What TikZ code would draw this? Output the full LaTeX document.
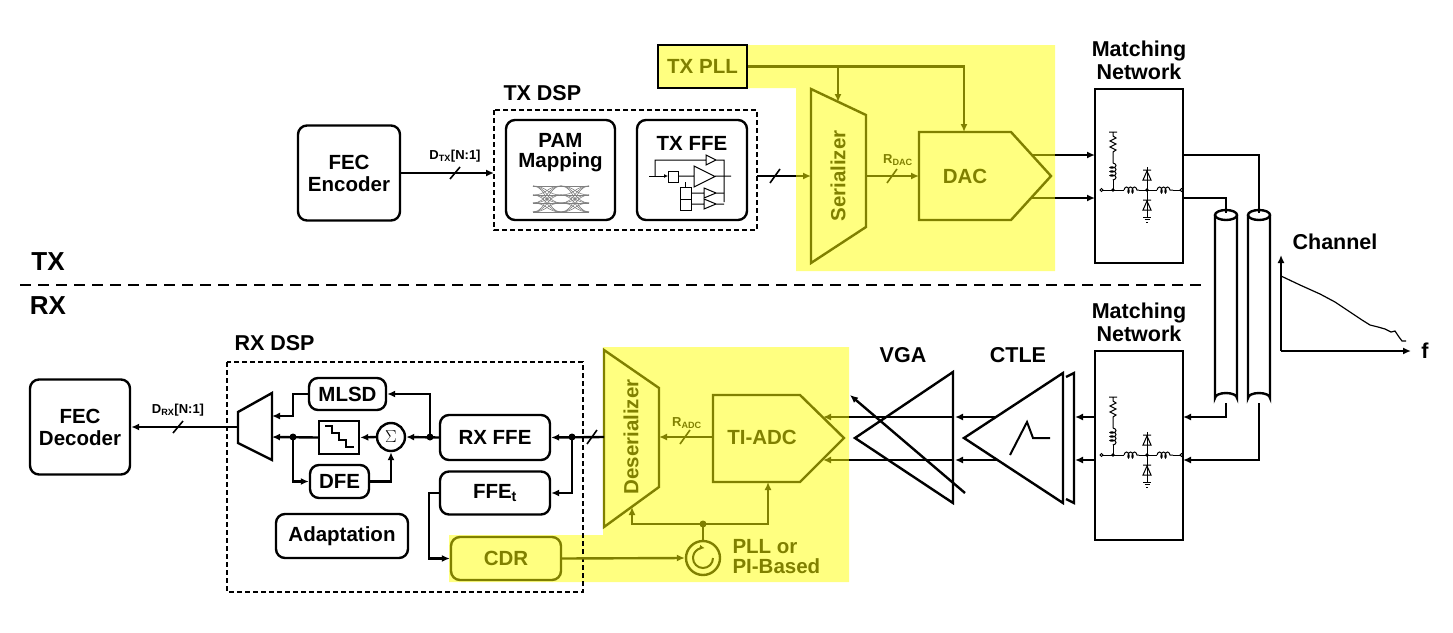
\documentclass[tikz,border=0pt]{standalone}
\usepackage{fontspec}
\setmainfont{Liberation Sans}
\usetikzlibrary{arrows.meta,decorations.pathmorphing}
\definecolor{hl}{RGB}{255,255,128}
\definecolor{ol}{RGB}{128,128,0}
\newcommand\myfA{\fontsize{20.5}{22}\selectfont\bfseries}
\newcommand\myfB{\fontsize{21.5}{23}\selectfont\bfseries}
\newcommand\myfS{\fontsize{13}{14}\selectfont\bfseries}
\newcommand\myfL{\fontsize{26}{28}\selectfont\bfseries}
\newcommand\mynet[2]{%
\begin{scope}[shift={(#1,#2)},line width=1pt]
\draw (-4,-58)--(4,-58) (0,-58)--(0,-54)--(3,-52)--(-3,-49)--(3,-46)--(-3,-43)--(3,-40)--(0,-38)--(0,-27);
\draw[decorate,decoration={coil,aspect=0.5,segment length=4pt,amplitude=3pt}] (0,-27)--(0,-10);
\draw (0,-10)--(0,0) (-10,0)--(11,0);
\draw[decorate,decoration={coil,aspect=0.5,segment length=4pt,amplitude=3pt}] (11,0)--(26,0);
\draw (26,0)--(44,0);
\draw[decorate,decoration={coil,aspect=0.5,segment length=4pt,amplitude=3pt}] (44,0)--(60,0);
\draw (60,0)--(67,0);
\draw (-11.5,0) circle (1.5) (68.5,0) circle (1.5);
\draw (34,-23)--(34,27);
\draw (30,-10)--(38,-10)--(34,-19)--cycle (30,-20)--(38,-20);
\draw (30,20)--(38,20)--(34,11)--cycle (30,10)--(38,10);
\draw (30,27)--(38,27) (31.5,29.5)--(36.5,29.5) (33,32)--(35,32);
\fill (0,0) circle (1.8) (34,0) circle (1.8);
\end{scope}}
\begin{document}
\begin{tikzpicture}[x=1pt,y=-1pt,line width=2.4pt,
 >={Latex[length=8pt,width=7pt]},
 rbox/.style={draw,rounded corners=9pt,align=center,font=\myfA,inner sep=0pt},
 sbox/.style={draw,align=center,inner sep=0pt},
 olw/.style={draw=ol,line width=2.4pt},
 lab/.style={font=\myfB,align=center},
 dsp/.style={dash pattern=on 5pt off 3pt,line width=2.2pt}]
\useasboundingbox (0,0) rectangle (1453,632);
% yellow regions
\fill[hl] (747,45)--(1055,45)--(1055,271)--(796,271)--(796,88)--(747,88)--cycle;
\fill[hl] (603,347)--(849,347)--(849,582)--(449,582)--(449,535)--(603,535)--cycle;
% ---------- TX ----------
\node[rbox,minimum width=102,minimum height=95] (fecE) at (349,173) {FEC\\Encoder};
\draw[dsp] (494,110) rectangle (757,230);
\node[lab,anchor=west] (txdsp) at (499,93) {TX DSP};
\node[rbox,minimum width=109,minimum height=100] (pam) at (560.5,170) {};
\node[font=\myfA,align=center] (pamt) at (560.5,153) {PAM\\[-2pt]Mapping};
\foreach \a in {186,195,203,212}{\foreach \b in {186,195,203,212}{
 \draw[gray,line width=0.6pt] (533,\a) .. controls (547,\a) and (547,\b) .. (561,\b);
 \draw[gray,line width=0.6pt] (561,\a) .. controls (575,\a) and (575,\b) .. (589,\b);}}
\node[rbox,minimum width=110,minimum height=100] (tff) at (692,170) {};
\node[font=\myfA] (tfft) at (692,143) {TX FFE};
\begin{scope}[line width=1pt]
\draw[->,>={Latex[length=4pt,width=4pt]}] (649,176)--(668,176);
\draw (668,171) rectangle (678,182);
\draw (678,176)--(694,176) (694,166)--(694,187)--(715,176.5)--cycle (715,176)--(731,176);
\draw (655,176)--(655,160)--(706,160) (706,155)--(706,165)--(716,160)--cycle (716,160)--(724,160)--(724,202);
\draw (680,187) rectangle (691,199) (680,199) rectangle (691,210) (685.5,187)--(685.5,182);
\draw (691,193)--(704,193) (704,188)--(704,198)--(716,193)--cycle (716,193)--(724,193);
\draw (691,204)--(704,204) (704,199)--(704,209)--(716,204)--cycle (716,204)--(724,204);
\end{scope}
\node[draw,fill=hl,minimum width=89,minimum height=43,inner sep=0pt,font=\myfA,text=ol] (pll) at (702.5,66.5) {TX PLL};
\draw[olw,fill=none] (811,89)--(866,115)--(866,227)--(811,263)--cycle;
\node[rotate=90,font=\myfA,text=ol] (ser) at (838,176) {Serializer};
\draw[olw] (919,132)--(1011,132)--(1051,176)--(1011,220)--(919,220)--cycle;
\node[font=\myfA,text=ol] (dac) at (965,176) {DAC};
\coordinate (serIn) at (811,176); \coordinate (serOut) at (866,176);
\coordinate (dacIn) at (919,176); \coordinate (dacT) at (964,132);
\coordinate (serT) at (838,102); \coordinate (br1) at (838,68);
\coordinate (dspIn) at (494,173);
\draw[olw,->] (pll.east) -| (dacT);
\draw[olw,->] (br1) -- (serT);
\draw[->] (fecE.east) -- (dspIn);
\draw[line width=1.6pt] (450,179)--(460,167);
\node[font=\myfS] (dtx) at (455,156) {D\textsubscript{TX}[N:1]};
\draw (757,176)--(796,176); \draw[olw,->] (796,176)--(serIn);
\draw[line width=1.6pt] (770,183)--(780,169);
\draw[olw,->] (serOut)--(dacIn);
\draw[draw=ol,line width=1.6pt] (887,183)--(897,169);
\node[font=\myfS,text=ol] (rdac) at (898,160) {R\textsubscript{DAC}};
% matching network TX
\node[sbox,minimum width=88,minimum height=174] (mnT) at (1139,176) {};
\node[lab] (mnTl) at (1139,60) {Matching\\Network};
\mynet{1113}{190}
\draw[olw] (1032,155)--(1055,155); \draw[olw] (1032,198)--(1055,198);
\draw[->] (1055,155)--(1095,155); \draw[->] (1055,198)--(1095,198);
% cylinders
\foreach \c/\n in {1226/cyA,1259/cyB}{
 \draw (\c-11,215) -- (\c-11,398) arc[start angle=180,end angle=360,x radius=11,y radius=5] -- (\c+11,215);
 \draw (\c,215) ellipse[x radius=11,y radius=5];
 \coordinate (\n t) at (\c,213); \coordinate (\n b) at (\c,403);}
\draw (1183,155) -| (cyBt);
\draw (1183,198) -| (cyAt);
% channel
\coordinate (org) at (1281,351);
\draw[->] (org) -- (1281,255);
\draw[->] (org) -- (1411,351);
\node[lab] (chl) at (1335,242) {Channel};
\node[lab] (fl) at (1425,351) {f};
\draw[line width=1.2pt] plot coordinates {(1281,276) (1300,285) (1320,294) (1335,302) (1350,312) (1362,320) (1370,325) (1378,327) (1385,329) (1391,332) (1395,331) (1399,337) (1402,341) (1406,341)};
% divider
\draw[dash pattern=on 11pt off 7pt,line width=2.4pt] (20,285)--(1205,285);
\node[font=\myfL] (txl) at (48,262) {TX};
\node[font=\myfL] (rxl) at (48,306) {RX};
% ---------- RX ----------
\node[sbox,minimum width=88,minimum height=189] (mnR) at (1139,445.5) {};
\node[lab] (mnRl) at (1139,322) {Matching\\Network};
\mynet{1113}{455}
\draw[->] (cyAb) |- (1183,417);
\draw[->] (cyBb) |- (1183,460);
% CTLE
\draw (1066,377)--(1074,373)--(1074,503)--(1066,499);
\draw (1063,373)--(1063,503)--(964,438)--cycle;
\draw[line width=2pt] (1010,455)--(1027,422)--(1033,438)--(1050,438);
\node[lab] (ctl) at (1018,355) {CTLE};
\draw[->] (1095,417)--(1075,417); \draw[->] (1095,460)--(1075,460);
\draw[->] (997,417)--(955,417); \draw[->] (997,460)--(955,460);
% VGA
\draw (953,372)--(953,503)--(855,438)--cycle;
\node[lab] (vgl) at (903,355) {VGA};
\draw[->] (965,493)--(850,395);
\draw (953,417)--(849,417); \draw (953,460)--(849,460);
\draw[olw,->] (849,417)--(823,417); \draw[olw,->] (849,460)--(823,460);
% TI-ADC
\draw[olw] (713,395)--(800,395)--(844,438)--(800,482)--(713,482)--cycle;
\node[font=\myfA,text=ol] (adc) at (762,437) {TI-ADC};
\coordinate (adcL) at (713,437); \coordinate (adcB) at (768,482);
% deserializer
\draw[olw] (604,350)--(659,388)--(659,487)--(604,527)--cycle;
\node[rotate=90,font=\myfA,text=ol] (des) at (631,437) {Deserializer};
\coordinate (desR) at (659,437); \coordinate (desL) at (604,437); \coordinate (desB) at (632,507);
\draw[olw,->] (adcL)--(desR);
\draw[draw=ol,line width=1.6pt] (680,444)--(690,430);
\node[font=\myfS,text=ol] (radc) at (687,423) {R\textsubscript{ADC}};
% clock
\node[draw=ol,circle,line width=2.4pt,minimum size=34,inner sep=0pt] (osc) at (703,558) {};
\draw[draw=ol,line width=2pt,->,>={Latex[length=5pt,width=5pt]}] (713,558) arc[start angle=0,end angle=280,radius=10];
\coordinate (ck) at (703,524);
\draw[olw] (osc.north)--(ck);
\fill[ol] (ck) circle (3.5);
\draw[olw,->] (ck) -| (desB);
\draw[olw,->] (ck) -| (adcB);
\node[font=\myfA,text=ol,align=left,anchor=west] (pllor) at (728,557) {PLL or\\[-2pt]PI-Based};
% RX DSP
\draw[dsp] (227,362) rectangle (583,592);
\node[lab,anchor=west] (rxdsp) at (230,343) {RX DSP};
\node[rbox,minimum width=110,minimum height=45] (rff) at (495,437.5) {RX FFE};
\node[rbox,minimum width=110,minimum height=43] (fft) at (495,493) {FFE\textsubscript{t}};
\node[rbox,minimum width=77,minimum height=32] (mlsd) at (347.5,394) {MLSD};
\node[rbox,minimum width=59,minimum height=33] (dfe) at (339.5,481.5) {DFE};
\node[rbox,minimum width=132,minimum height=44] (adp) at (342,536) {Adaptation};
\node[draw,fill=hl,draw=ol,rounded corners=9pt,minimum width=110,minimum height=43,font=\myfA,text=ol] (cdr) at (506,558.5) {CDR};
\node[sbox,minimum width=40,minimum height=33] (stc) at (339,437.5) {};
\draw[line width=1.8pt] (325,426)--(332,426)--(332,433)--(339,433)--(339,440)--(346,440)--(346,447)--(354,447);
\node[draw,circle,minimum size=28,inner sep=0pt,font=\fontsize{16}{16}\selectfont] (sum) at (391,437) {$\Sigma$};
\draw (238,412)--(272,393)--(272,460)--(238,443)--cycle;
\coordinate (muxO) at (238,427); \coordinate (muxA) at (272,416); \coordinate (muxB) at (272,437);
\node[rbox,minimum width=100,minimum height=95] (fecD) at (80,427) {FEC\\Decoder};
\draw[->] (muxO) -- (fecD.east);
\draw[line width=1.6pt] (173,433)--(183,421);
\node[font=\myfS] (drx) at (178,410) {D\textsubscript{RX}[N:1]};
% DSP wiring
\coordinate (n1) at (430,437); \coordinate (n2) at (572,437); \coordinate (n3) at (293,437);
\draw[->] (desL) -- (rff.east);
\draw[line width=1.6pt] (587,444)--(597,430);
\draw[->] (n2) |- (fft.east);
\draw[->] (rff.west) -- (sum.east);
\draw[->] (n1) |- (mlsd.east);
\draw[->] (mlsd.west) -- (293,394) |- (muxA);
\draw[->] (sum.west) -- (stc.east);
\draw[->] (stc.west) -- (muxB);
\draw[->] (n3) |- (dfe.west);
\draw[->] (dfe.east) -| (sum.south);
\draw[->] (fft.west) -- (429,493) |- (cdr.west);
\draw[olw,->] (cdr.east) -- (osc.west);
\foreach \p in {n1,n2,n3} \fill (\p) circle (3.5);
\end{tikzpicture}
\end{document}
